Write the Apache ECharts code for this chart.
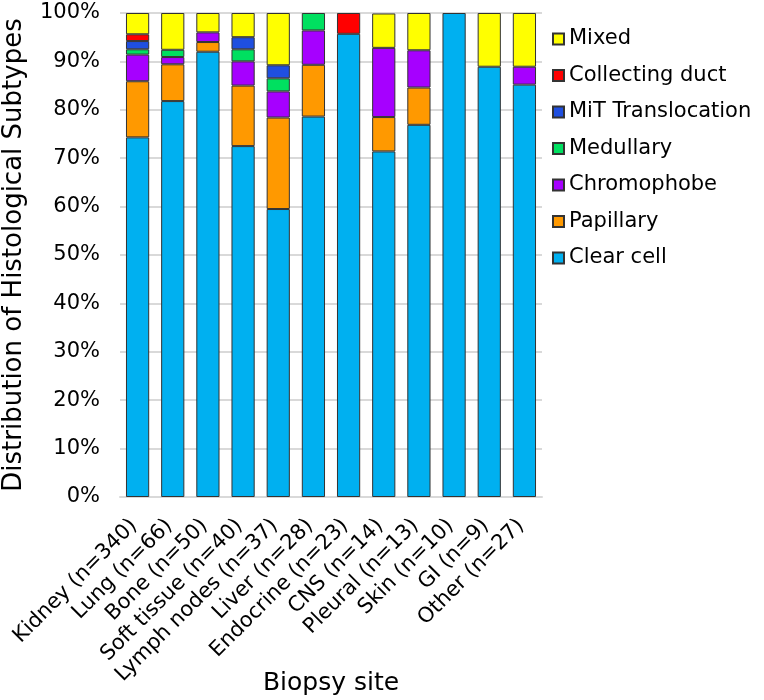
<!DOCTYPE html>
<html>
<head>
<meta charset="utf-8">
<script src="https://cdn.jsdelivr.net/npm/echarts@6/dist/echarts.min.js"></script>
<style>
html,body{margin:0;padding:0;background:#fff;}
#chart{width:764px;height:700px;}
</style>
</head>
<body>
<div id="chart"></div>
<script>
const categories = ["Kidney (n=340)","Lung (n=66)","Bone (n=50)","Soft tissue (n=40)","Lymph nodes (n=37)","Liver (n=28)","Endocrine (n=23)","CNS (n=14)","Pleural (n=13)","Skin (n=10)","GI (n=9)","Other (n=27)"];
const clearCell   = [74.3, 81.8, 92.0, 72.5, 59.5, 78.6, 95.7, 71.4, 76.9, 100, 88.9, 85.2];
const papillary   = [11.6, 7.6, 2.0, 12.5, 18.9, 10.7, 0, 7.1, 7.7, 0, 0, 0];
const chromophobe = [5.5, 1.5, 2.0, 5.0, 5.4, 7.1, 0, 14.3, 7.7, 0, 0, 3.7];
const medullary   = [1.1, 1.5, 0, 2.5, 2.7, 3.6, 0, 0, 0, 0, 0, 0];
const mitTrans    = [1.7, 0, 0, 2.5, 2.7, 0, 0, 0, 0, 0, 0, 0];
const collecting  = [1.4, 0, 0, 0, 0, 0, 4.3, 0, 0, 0, 0, 0];
const mixed       = [4.4, 7.6, 4.0, 5.0, 10.8, 0, 0, 7.1, 7.7, 0, 11.1, 11.1];
const yTicks = [0,10,20,30,40,50,60,70,80,90,100];

const seriesDefs = [
  {name:"Clear cell", data:clearCell, color:"#00b0f0"},
  {name:"Papillary", data:papillary, color:"#ff9900"},
  {name:"Chromophobe", data:chromophobe, color:"#a600ff"},
  {name:"Medullary", data:medullary, color:"#00e060"},
  {name:"MiT Translocation", data:mitTrans, color:"#1f4fe0"},
  {name:"Collecting duct", data:collecting, color:"#ff0000"},
  {name:"Mixed", data:mixed, color:"#ffff00"}
];

const FONT = "DejaVu Sans";
const chart = echarts.init(document.getElementById('chart'), null, {renderer:'canvas'});
chart.setOption({
  animation:false,
  backgroundColor:'#fff',
  textStyle:{fontFamily:FONT, color:'#000'},
  grid:{left:120, right:222, top:13, bottom:203, containLabel:false, outerBoundsMode:'none'},
  legend:{
    orient:'vertical', left:547, top:23,
    data:seriesDefs.map(s=>s.name).reverse(),
    itemWidth:11, itemHeight:11, itemGap:14.5,
    textStyle:{fontFamily:FONT, fontSize:21, color:'#000', lineHeight:22},
    icon:'rect'
  },
  xAxis:{
    type:'category', data:categories,
    name:'Biopsy site', nameLocation:'middle', nameGap:174, nameMoveOverlap:false,
    nameTextStyle:{fontFamily:FONT, fontSize:25, color:'#000'},
    axisTick:{show:false},
    axisLine:{lineStyle:{color:'#d9d9d9', width:2}},
    axisLabel:{rotate:45, interval:0, fontSize:21, color:'#000', fontFamily:FONT, margin:22, padding:[0,5,10,0]}
  },
  yAxis:{
    type:'value', min:0, max:100, interval:10,
    name:'Distribution of Histological Subtypes', nameLocation:'middle', nameGap:93, nameMoveOverlap:false,
    nameTextStyle:{fontFamily:FONT, fontSize:26, color:'#000'},
    axisLine:{show:false}, axisTick:{show:false},
    splitLine:{lineStyle:{color:'#d9d9d9', width:2}},
    axisLabel:{formatter: v => yTicks.includes(v) ? v + '%' : '', fontSize:21, color:'#000', fontFamily:FONT, margin:20}
  },
  series: seriesDefs.map(s => ({
    name:s.name, type:'bar', stack:'total', barCategoryGap:'34%',
    data:s.data.map(v => v === 0 ? null : v),
    itemStyle:{color:s.color, borderColor:'#333', borderWidth:1}
  }))
});
</script>
</body>
</html>
